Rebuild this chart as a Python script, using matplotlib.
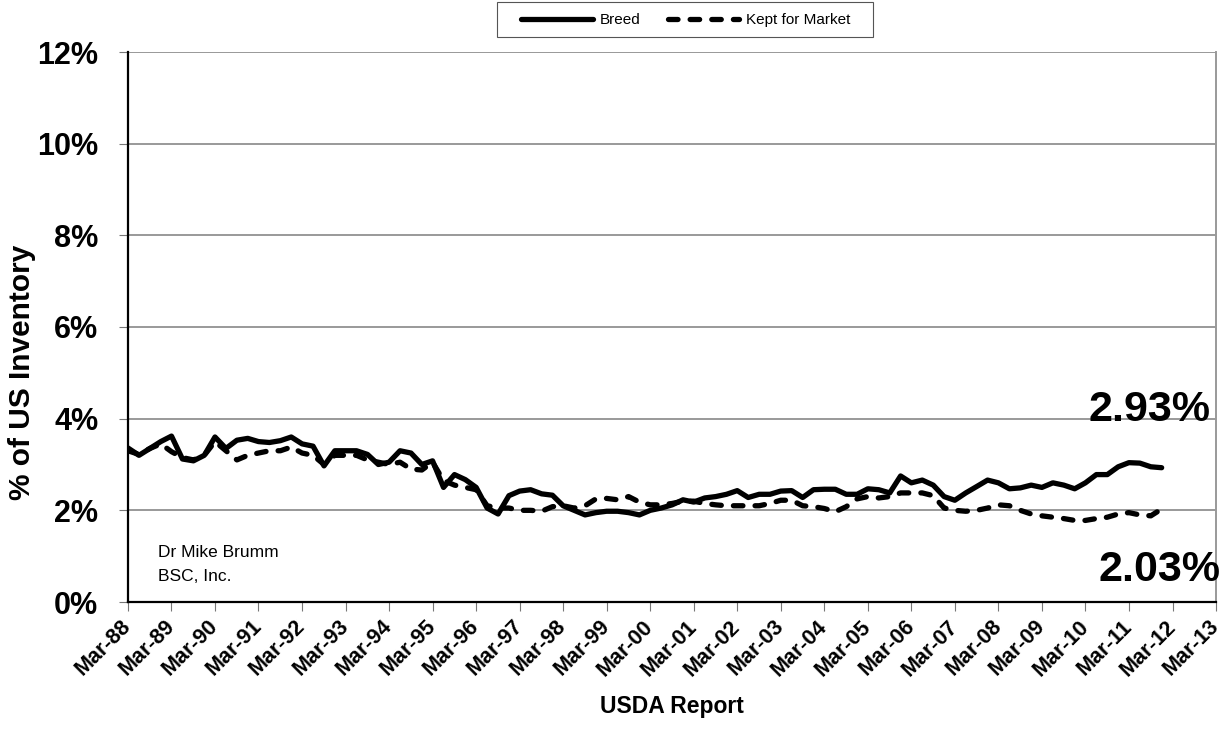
import matplotlib
matplotlib.use('Agg')
import matplotlib.pyplot as plt
import matplotlib.dates as mdates
import matplotlib.transforms as mtransforms
from matplotlib.patches import Rectangle
import pandas as pd

plt.rcParams['font.family'] = ['Liberation Sans', 'DejaVu Sans']

# quarterly USDA reports, Mar-88 through Dec-11 (% of US inventory)
report_dates = pd.date_range('1988-03-01', periods=96, freq='3MS')

breed = [
    3.36, 3.20, 3.35, 3.50, 3.62, 3.12, 3.08, 3.20, 3.60, 3.35,
    3.53, 3.57, 3.50, 3.48, 3.52, 3.60, 3.45, 3.40, 2.97, 3.30,
    3.30, 3.30, 3.22, 3.00, 3.05, 3.30, 3.25, 3.00, 3.08, 2.50,
    2.78, 2.67, 2.50, 2.05, 1.92, 2.32, 2.42, 2.45, 2.36, 2.33,
    2.10, 2.00, 1.90, 1.95, 1.98, 1.98, 1.95, 1.90, 2.00, 2.05,
    2.12, 2.23, 2.18, 2.27, 2.30, 2.35, 2.43, 2.28, 2.35, 2.35,
    2.42, 2.43, 2.28, 2.45, 2.46, 2.46, 2.35, 2.35, 2.47, 2.45,
    2.38, 2.75, 2.60, 2.66, 2.55, 2.30, 2.22, 2.38, 2.52, 2.66,
    2.60, 2.47, 2.49, 2.55, 2.50, 2.60, 2.55, 2.47, 2.60, 2.78,
    2.78, 2.95, 3.04, 3.03, 2.95, 2.93,
]

kept_for_market = [
    3.30, 3.22, 3.35, 3.45, 3.28, 3.15, 3.10, 3.20, 3.50, 3.30,
    3.10, 3.20, 3.25, 3.30, 3.30, 3.38, 3.25, 3.20, 3.00, 3.20,
    3.20, 3.20, 3.10, 3.05, 3.00, 3.05, 2.90, 2.88, 3.05, 2.65,
    2.55, 2.50, 2.45, 2.10, 2.05, 2.05, 2.00, 2.00, 1.98, 2.08,
    2.10, 2.05, 2.10, 2.25, 2.26, 2.23, 2.30, 2.18, 2.12, 2.12,
    2.15, 2.20, 2.20, 2.15, 2.12, 2.10, 2.10, 2.10, 2.10, 2.15,
    2.22, 2.22, 2.10, 2.08, 2.04, 1.97, 2.08, 2.25, 2.30, 2.27,
    2.30, 2.38, 2.38, 2.38, 2.32, 2.05, 2.00, 1.98, 2.00, 2.05,
    2.12, 2.10, 2.00, 1.92, 1.88, 1.85, 1.82, 1.78, 1.78, 1.82,
    1.85, 1.92, 1.95, 1.90, 1.88, 2.03,
]

tick_years = list(range(1988, 2014))

fig = plt.figure(figsize=(12.25, 7.42), dpi=100)
ax = fig.add_axes([128 / 1225, 1 - 602 / 742, (1216 - 128) / 1225, (602 - 52) / 742])

ax.plot(report_dates, breed, color='black', lw=3.8, solid_capstyle='round',
        solid_joinstyle='round', label='Breed')
ax.plot(report_dates, kept_for_market, color='black', lw=3.8, dashes=(1.8, 2.3),
        dash_capstyle='round', dash_joinstyle='round', label='Kept for Market')

ax.set_ylim(0, 12)
ax.set_yticks(range(0, 13, 2))
ax.set_yticklabels([f'{v}%' for v in range(0, 13, 2)], fontsize=22, fontweight='bold')
ax.grid(axis='y', color='#999999', lw=1.4)
ax.set_axisbelow(True)

ax.set_xlim(pd.Timestamp('1988-03-01'), pd.Timestamp('2013-03-01'))
ax.set_xticks([pd.Timestamp(f'{y}-03-01') for y in tick_years])
ax.xaxis.set_major_formatter(mdates.DateFormatter('Mar-%y'))
shift = mtransforms.ScaledTranslation(-4 / 100, 0, fig.dpi_scale_trans)
for lbl in ax.get_xticklabels():
    lbl.set_rotation(45)
    lbl.set_ha('right')
    lbl.set_va('center')
    lbl.set_rotation_mode('anchor')
    lbl.set_fontsize(15.5)
    lbl.set_fontweight('bold')
    lbl.set_transform(lbl.get_transform() + shift)

ax.tick_params(axis='x', length=6.5, color='#777777', pad=9)
ax.tick_params(axis='y', length=6.5, color='#777777', pad=15)

ax.spines['top'].set_visible(False)
ax.spines['right'].set_color('#999999')
ax.spines['right'].set_linewidth(1.4)
ax.spines['left'].set_linewidth(1.6)
ax.spines['bottom'].set_linewidth(1.6)

ax.set_xlabel('USDA Report', fontsize=16.5, fontweight='bold', va='center')
ax.xaxis.set_label_coords((672 - 128) / 1088, (602 - 706) / 550)
ax.set_ylabel('% of US Inventory', fontsize=21.5, fontweight='bold', va='center')
ax.yaxis.set_label_coords((22 - 128) / 1088, (602 - 372) / 550)

# latest values
ax.text(0.9945, breed[-1] + 1.26, f'{breed[-1]:.2f}%', transform=ax.get_yaxis_transform(),
        ha='right', va='center', fontsize=31, fontweight='bold')
ax.text(1.0037, kept_for_market[-1] - 1.33, f'{kept_for_market[-1]:.2f}%',
        transform=ax.get_yaxis_transform(), ha='right', va='center',
        fontsize=31, fontweight='bold')

ax.text(0.028, 0.068, 'Dr Mike Brumm\nBSC, Inc.', transform=ax.transAxes,
        fontsize=12.5, va='center', ha='left', linespacing=1.8)

# legend entries without their own frame; box drawn separately
fig.legend(loc='center', bbox_to_anchor=(686 / 1225, 1 - 20 / 742),
           ncol=2, fontsize=11, frameon=False, handlelength=4.7,
           columnspacing=1.75, handletextpad=0.45, borderpad=0, borderaxespad=0)
fig.patches.append(Rectangle((497 / 1225, 1 - 37 / 742), (873 - 497) / 1225, 35 / 742,
                             transform=fig.transFigure, fill=False,
                             edgecolor='#555555', lw=0.8))

fig.savefig('out.png', dpi=100)
